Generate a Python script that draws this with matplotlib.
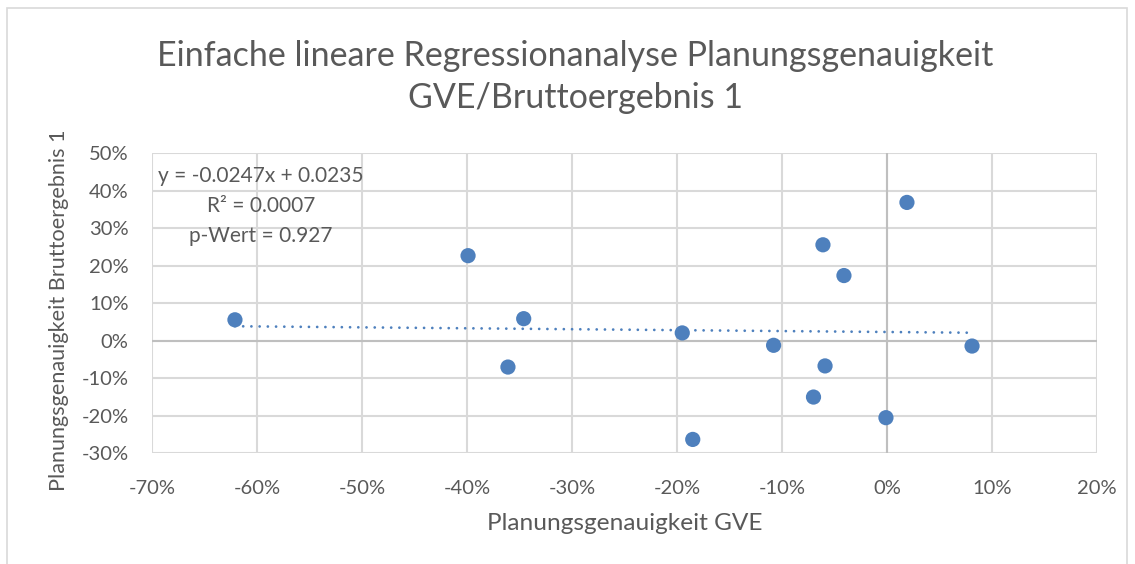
import matplotlib
matplotlib.use("Agg")
import matplotlib.pyplot as plt
from matplotlib.patches import Rectangle
from matplotlib.ticker import PercentFormatter, MultipleLocator

# Data (fractions)
gve = [-0.621, -0.399, -0.346, -0.361, -0.195, -0.185, -0.108, -0.061, -0.041,
       -0.059, -0.070, -0.001, 0.019, 0.081]
brutto = [0.056, 0.227, 0.059, -0.070, 0.021, -0.263, -0.012, 0.256, 0.174,
          -0.067, -0.150, -0.205, 0.369, -0.014]
slope = -0.0247
intercept = 0.0235
eq_text = "y = -0.0247x + 0.0235\nR² = 0.0007\np-Wert = 0.927"
title = "Einfache lineare Regressionanalyse Planungsgenauigkeit\nGVE/Bruttoergebnis 1"
xlabel = "Planungsgenauigkeit GVE"
ylabel = "Planungsgenauigkeit Bruttoergebnis 1"

plt.rcParams['font.family'] = ['Lato', 'DejaVu Sans']
plt.rcParams['axes.unicode_minus'] = False
W, H = 1135, 564
fig = plt.figure(figsize=(W/100, H/100), dpi=100)
fig.patch.set_facecolor('white')
fig.patches.append(Rectangle((7/W, -0.1), (1127-7)/W, 1.1 - 8/H, transform=fig.transFigure,
                             fill=False, edgecolor='#d9d9d9', linewidth=1.2))
renderer = fig.canvas.get_renderer()


def fit(txt, target_px, vertical=False):
    bb = txt.get_window_extent(renderer=renderer)
    size = bb.height if vertical else bb.width
    txt.set_fontsize(txt.get_fontsize() * target_px / size)


ax = fig.add_axes([152/W, 1-453.3/H, (1097-152)/W, (453.3-153.3)/H])
ax.set_xlim(-0.70, 0.20)
ax.set_ylim(-0.30, 0.50)
ax.xaxis.set_major_locator(MultipleLocator(0.1))
ax.yaxis.set_major_locator(MultipleLocator(0.1))
ax.xaxis.set_major_formatter(PercentFormatter(1.0, decimals=0))
ax.yaxis.set_major_formatter(PercentFormatter(1.0, decimals=0))
for s in ax.spines.values():
    s.set_visible(False)
ax.grid(True, color='#d9d9d9', linewidth=1.5)
ax.set_axisbelow(True)
ax.axhline(0, color='#bfbfbf', linewidth=1.5, zorder=1)
ax.axvline(0, color='#bfbfbf', linewidth=1.5, zorder=1)
ax.tick_params(length=0, labelsize=14.5, labelcolor='#595959')
ax.tick_params(axis='x', pad=19)
ax.tick_params(axis='y', pad=17)

ax.scatter(gve, brutto, s=120, color='#4e80bd', zorder=3, edgecolors='none')
xmin, xmax = min(gve), max(gve)
ax.plot([xmin, xmax], [slope*xmin + intercept, slope*xmax + intercept],
        color='#4e80bd', linewidth=2.0, linestyle=(0, (0.01, 2.95)),
        dash_capstyle='round', zorder=2)

ax.text(-0.596, 0.360, eq_text, ha='center', va='center', fontsize=15,
        color='#595959', linespacing=1.62, multialignment='center')

xl = fig.text(624.5/W, 1-523/H, xlabel, ha='center', va='center',
              fontsize=17, color='#595959')
fit(xl, 275)
yl = fig.text(59/W, 1-310/H, ylabel, rotation=90, ha='center', va='center',
              fontsize=14, color='#595959')
fit(yl, 362, vertical=True)

fig.text(575/W, 1-77/H, title, ha='center', va='center', fontsize=24.5,
         color='#595959', linespacing=1.42)

fig.savefig('out.png', dpi=100, facecolor='white')
